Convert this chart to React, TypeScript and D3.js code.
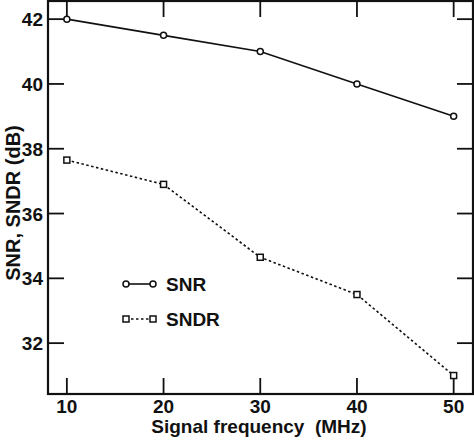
import React, { useEffect, useRef } from "react";
import * as d3 from "d3";

// signal frequency (MHz)
const freqs = [10, 20, 30, 40, 50];
// measured values in dB
const snr = [42.0, 41.5, 41.0, 40.0, 39.0];
const sndr = [37.65, 36.9, 34.65, 33.5, 31.0];

const xTicks = [10, 20, 30, 40, 50];
const yTicks = [32, 34, 36, 38, 40, 42];

const W = 474;
const H = 440;
const margin = { top: 1, right: 1, bottom: 46, left: 48 };

export default function App() {
  const ref = useRef<SVGSVGElement>(null);

  useEffect(() => {
    const svg = d3.select(ref.current);
    svg.selectAll("*").remove();

    const x = d3.scaleLinear().domain([8.05, 52]).range([margin.left, W - margin.right]);
    const y = d3.scaleLinear().domain([30.43, 42.56]).range([H - margin.bottom, margin.top]);

    const font = "'Liberation Sans', Arial, sans-serif";
    const tickLen = 16;
    const x0 = margin.left, x1 = W - margin.right;
    const y0 = H - margin.bottom, y1 = margin.top;

    // frame
    svg.append("rect")
      .attr("x", x0).attr("y", y1)
      .attr("width", x1 - x0).attr("height", y0 - y1)
      .attr("fill", "none").attr("stroke", "#111").attr("stroke-width", 2.2);

    const ticks = svg.append("g").attr("stroke", "#111").attr("stroke-width", 1.8);
    xTicks.forEach(t => {
      ticks.append("line").attr("x1", x(t)).attr("x2", x(t)).attr("y1", y0).attr("y2", y0 - tickLen);
      ticks.append("line").attr("x1", x(t)).attr("x2", x(t)).attr("y1", y1).attr("y2", y1 + tickLen);
    });
    yTicks.forEach(t => {
      ticks.append("line").attr("x1", x0).attr("x2", x0 + tickLen).attr("y1", y(t)).attr("y2", y(t));
      ticks.append("line").attr("x1", x1).attr("x2", x1 - tickLen).attr("y1", y(t)).attr("y2", y(t));
    });

    svg.append("g").selectAll("text").data(xTicks).join("text")
      .attr("x", d => x(d)).attr("y", y0 + 19)
      .attr("text-anchor", "middle")
      .attr("font-family", font).attr("font-weight", "bold").attr("font-size", 19)
      .attr("fill", "#111").text(d => d);

    svg.append("g").selectAll("text").data(yTicks).join("text")
      .attr("x", x0 - 5).attr("y", d => y(d) + 7)
      .attr("text-anchor", "end")
      .attr("font-family", font).attr("font-weight", "bold").attr("font-size", 19)
      .attr("fill", "#111").text(d => d);

    svg.append("text")
      .attr("x", 259).attr("y", 433)
      .attr("text-anchor", "middle")
      .attr("font-family", font).attr("font-weight", "bold").attr("font-size", 19)
      .attr("fill", "#111").attr("xml:space", "preserve")
      .text("Signal frequency  (MHz)");

    svg.append("text")
      .attr("transform", `translate(20, 203) rotate(-90)`)
      .attr("text-anchor", "middle")
      .attr("font-family", font).attr("font-weight", "bold").attr("font-size", 20)
      .attr("fill", "#111")
      .text("SNR, SNDR (dB)");

    const line = d3.line<number>().x((_, i) => x(freqs[i])).y(d => y(d));

    svg.append("path").attr("d", line(snr)!)
      .attr("fill", "none").attr("stroke", "#111").attr("stroke-width", 1.6);
    svg.append("path").attr("d", line(sndr)!)
      .attr("fill", "none").attr("stroke", "#111").attr("stroke-width", 1.6)
      .attr("stroke-dasharray", "2.5,2.5");

    svg.append("g").selectAll("circle").data(snr).join("circle")
      .attr("cx", (_, i) => x(freqs[i])).attr("cy", d => y(d)).attr("r", 3)
      .attr("fill", "#fff").attr("stroke", "#111").attr("stroke-width", 1.5);

    const sq = 6;
    svg.append("g").selectAll("rect").data(sndr).join("rect")
      .attr("x", (_, i) => x(freqs[i]) - sq / 2).attr("y", d => y(d) - sq / 2)
      .attr("width", sq).attr("height", sq)
      .attr("fill", "#fff").attr("stroke", "#111").attr("stroke-width", 1.5);

    // legend
    const lg = svg.append("g").attr("transform", "translate(126, 284)");
    lg.append("line").attr("x1", 0).attr("x2", 27).attr("y1", 0).attr("y2", 0)
      .attr("stroke", "#111").attr("stroke-width", 1.6);
    [0, 27].forEach(cx => lg.append("circle").attr("cx", cx).attr("cy", 0).attr("r", 3)
      .attr("fill", "#fff").attr("stroke", "#111").attr("stroke-width", 1.5));
    lg.append("text").attr("x", 40).attr("y", 7)
      .attr("font-family", font).attr("font-weight", "bold").attr("font-size", 19)
      .attr("fill", "#111").text("SNR");

    lg.append("line").attr("x1", 0).attr("x2", 27).attr("y1", 35).attr("y2", 35)
      .attr("stroke", "#111").attr("stroke-width", 1.6).attr("stroke-dasharray", "2.5,2.5");
    [0, 27].forEach(cx => lg.append("rect").attr("x", cx - sq / 2).attr("y", 35 - sq / 2)
      .attr("width", sq).attr("height", sq)
      .attr("fill", "#fff").attr("stroke", "#111").attr("stroke-width", 1.5));
    lg.append("text").attr("x", 40).attr("y", 42)
      .attr("font-family", font).attr("font-weight", "bold").attr("font-size", 19)
      .attr("fill", "#111").text("SNDR");
  }, []);

  return (
    <svg ref={ref} width={W} height={H}
      style={{ position: "absolute", left: 0, top: 0, background: "#fff" }} />
  );
}
